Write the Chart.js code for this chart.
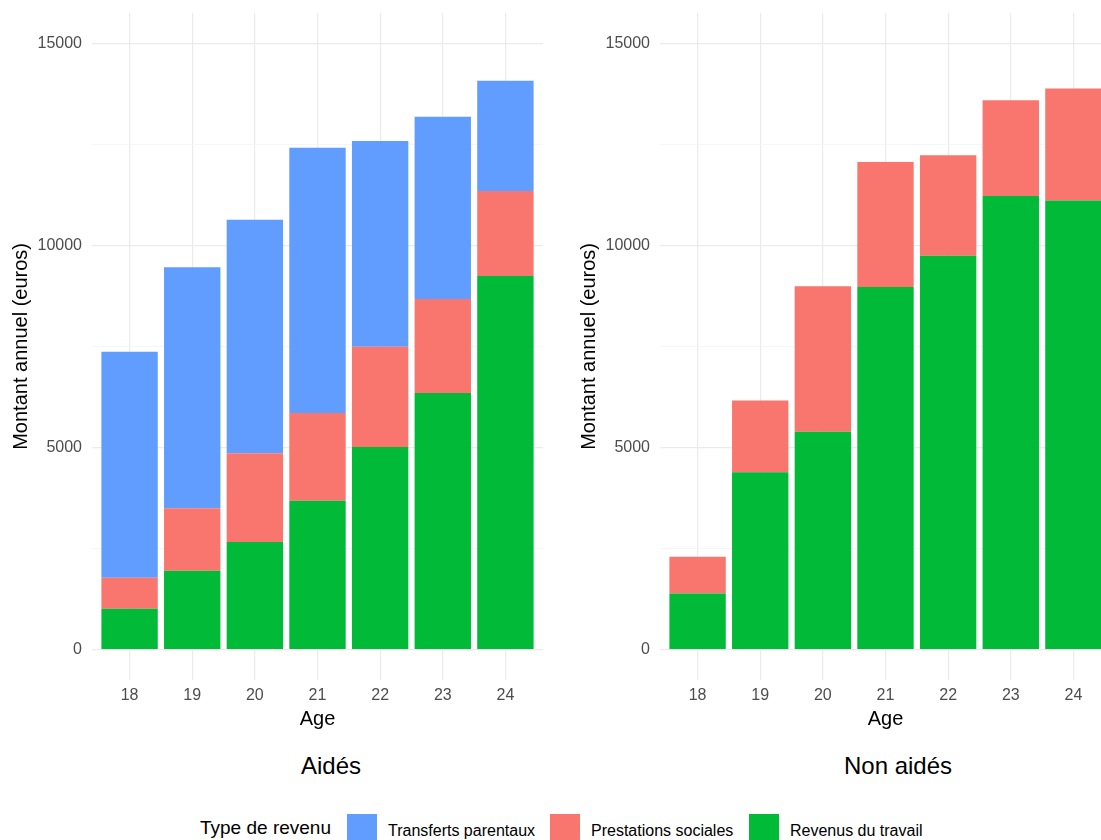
<!DOCTYPE html>
<html>
<head>
<meta charset="utf-8">
<script src="https://cdn.jsdelivr.net/npm/chart.js@4.4.1/dist/chart.umd.min.js"></script>
<style>
  html, body { margin: 0; padding: 0; background: #fff; }
  body { width: 1101px; height: 840px; position: relative; overflow: hidden; font-family: 'Liberation Sans', Arial, sans-serif; }
  .panel { position: absolute; top: 0; height: 731px; width: 560px; }
  #leftWrap { left: 0; }
  #rightWrap { left: 568px; }
  .facet { position: absolute; top: 751px; font-size: 24px; line-height: 30px; color: #000; transform: translateX(-50%); white-space: nowrap; }
  .legend-title { position: absolute; left: 200px; top: 816px; font-size: 19px; line-height: 24px; color: #000; white-space: nowrap; }
  .key { position: absolute; top: 814px; width: 30px; height: 30px; }
  .label { position: absolute; top: 821px; font-size: 16px; line-height: 20px; color: #000; white-space: nowrap; }
</style>
</head>
<body>
<div class="panel" id="leftWrap"><canvas id="aides"></canvas></div>
<div class="panel" id="rightWrap"><canvas id="nonAides"></canvas></div>

<div class="facet" style="left:331px">Aidés</div>
<div class="facet" style="left:898px">Non aidés</div>

<div class="legend-title">Type de revenu</div>
<div class="key" style="left:347px; background:#619CFF"></div>
<div class="label" style="left:388px">Transferts parentaux</div>
<div class="key" style="left:550px; background:#F8766D"></div>
<div class="label" style="left:591px">Prestations sociales</div>
<div class="key" style="left:749px; background:#00BA38"></div>
<div class="label" style="left:790px">Revenus du travail</div>

<script>
const ages = [18, 19, 20, 21, 22, 23, 24];

// Aidés
const aidesTravail = [1010, 1950, 2660, 3680, 5010, 6350, 9240];
const aidesPrestations = [770, 1550, 2200, 2170, 2480, 2320, 2100];
const aidesTransferts = [5590, 5960, 5770, 6560, 5090, 4510, 2730];

// Non aidés
const nonAidesTravail = [1390, 4390, 5390, 8970, 9740, 11220, 11110];
const nonAidesPrestations = [910, 1770, 3600, 3090, 2490, 2370, 2770];

const yTicks = [0, 2500, 5000, 7500, 10000, 12500, 15000];

const FONT = 'Liberation Sans';
const GREEN = '#00BA38', RED = '#F8766D', BLUE = '#619CFF';

function drawPanel(id, datasets) {
    new Chart(document.getElementById(id), {
        type: 'bar',
        data: { labels: ages, datasets: datasets },
        options: {
            responsive: true,
            maintainAspectRatio: false,
            animation: false,
            layout: { padding: { top: 12.8, right: 17, left: 0, bottom: 0 } },
            plugins: { legend: { display: false }, tooltip: { enabled: false } },
            datasets: { bar: { barPercentage: 0.9, categoryPercentage: 1 } },
            scales: {
                x: {
                    type: 'linear',
                    stacked: true,
                    min: 17.4,
                    max: 24.6,
                    offset: false,
                    afterBuildTicks: s => { s.ticks = ages.map(v => ({ value: v })); },
                    afterFit: s => { s.height = 51; s.paddingLeft = 0; s.paddingRight = 0; },
                    ticks: {
                        color: '#4d4d4d', font: { family: FONT, size: 16 }, padding: 6,
                        autoSkip: false, maxRotation: 0, callback: v => String(v)
                    },
                    grid: { color: '#ebebeb', lineWidth: 1.2, drawTicks: false, offset: false },
                    border: { display: false },
                    title: { display: true, text: 'Age', color: '#000', font: { family: FONT, size: 20 }, padding: 0 }
                },
                y: {
                    stacked: true,
                    min: -750,
                    max: 15750,
                    afterBuildTicks: s => { s.ticks = yTicks.map(v => ({ value: v })); },
                    afterFit: s => { s.width = 92; s.paddingTop = 0; s.paddingBottom = 0; },
                    ticks: {
                        color: '#4d4d4d', font: { family: FONT, size: 16 }, padding: 10,
                        autoSkip: false, callback: v => (v % 5000 === 0 ? String(v) : '')
                    },
                    grid: {
                        color: c => (c.tick && c.tick.value % 5000 === 0 ? '#ebebeb' : '#f4f4f4'),
                        lineWidth: c => (c.tick && c.tick.value % 5000 === 0 ? 1.2 : 0.8),
                        drawTicks: false
                    },
                    border: { display: false },
                    title: {
                        display: true, text: 'Montant annuel (euros)', color: '#000',
                        font: { family: FONT, size: 20 }, padding: { top: 9.4, bottom: 0 }
                    }
                }
            }
        }
    });
}

drawPanel('aides', [
    { label: 'Revenus du travail', data: aidesTravail, backgroundColor: GREEN },
    { label: 'Prestations sociales', data: aidesPrestations, backgroundColor: RED },
    { label: 'Transferts parentaux', data: aidesTransferts, backgroundColor: BLUE }
]);

drawPanel('nonAides', [
    { label: 'Revenus du travail', data: nonAidesTravail, backgroundColor: GREEN },
    { label: 'Prestations sociales', data: nonAidesPrestations, backgroundColor: RED }
]);
</script>
</body>
</html>
